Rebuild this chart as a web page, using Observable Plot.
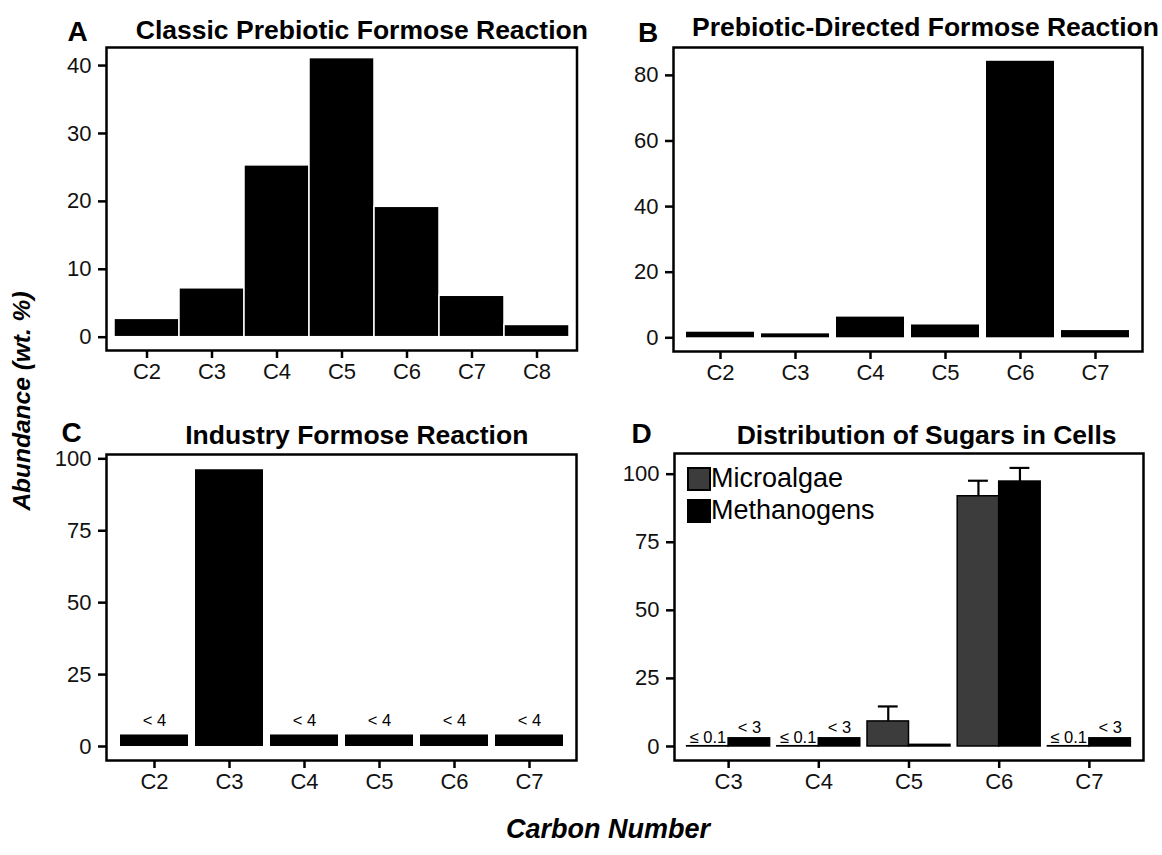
<!DOCTYPE html>
<html>
<head>
<meta charset="utf-8">
<script src="https://cdn.jsdelivr.net/npm/d3@7"></script>
<script src="https://cdn.jsdelivr.net/npm/@observablehq/plot@0.6"></script>
<style>
  html, body { margin: 0; padding: 0; background: #fff; }
  #fig { position: relative; width: 1162px; height: 855px; overflow: hidden; background: #fff;
         font-family: "Liberation Sans", Arial, Helvetica, sans-serif; color: #000; }
  .panel { position: absolute; }
  .panel svg { overflow: visible; display: block; }
  .axis-title { position: absolute; font-weight: bold; font-style: italic; white-space: nowrap; line-height: 1; }
  #ylab { left: 22px; top: 401px; font-size: 24.5px; transform: translate(-50%, -50%) rotate(-90deg); }
  #xlab { left: 608px; top: 816px; font-size: 27px; transform: translateX(-50%); }
  #legendD { position: absolute; left: 688px; top: 463px; }
</style>
</head>
<body>
<div id="fig">
  <div class="panel" id="pA" style="left:0px;top:0px"></div>
  <div class="panel" id="pB" style="left:581px;top:0px"></div>
  <div class="panel" id="pC" style="left:0px;top:410px"></div>
  <div class="panel" id="pD" style="left:581px;top:410px"></div>
  <div id="legendD"></div>
  <div class="axis-title" id="ylab">Abundance (wt. %)</div>
  <div class="axis-title" id="xlab">Carbon Number</div>
</div>
<script>
// ---------------- DATA ----------------
// Panel A
const panelA_letter = "A";
const panelA_title = "Classic Prebiotic Formose Reaction";
const panelA_categories = ["C2", "C3", "C4", "C5", "C6", "C7", "C8"];
const panelA_values = [2.7, 7.2, 25.3, 41.1, 19.2, 6.1, 1.8];
const panelA_ticks = [0, 10, 20, 30, 40];

// Panel B
const panelB_letter = "B";
const panelB_title = "Prebiotic-Directed Formose Reaction";
const panelB_categories = ["C2", "C3", "C4", "C5", "C6", "C7"];
const panelB_values = [1.7, 1.2, 6.3, 3.9, 84.3, 2.2];
const panelB_ticks = [0, 20, 40, 60, 80];

// Panel C
const panelC_letter = "C";
const panelC_title = "Industry Formose Reaction";
const panelC_categories = ["C2", "C3", "C4", "C5", "C6", "C7"];
const panelC_values = [4, 96.2, 4, 4, 4, 4];
const panelC_labels = ["< 4", "", "< 4", "< 4", "< 4", "< 4"];
const panelC_ticks = [0, 25, 50, 75, 100];

// Panel D
const panelD_letter = "D";
const panelD_title = "Distribution of Sugars in Cells";
const panelD_categories = ["C3", "C4", "C5", "C6", "C7"];
const panelD_series = ["Microalgae", "Methanogens"];
const panelD_microalgae = [0.1, 0.1, 9.2, 91.9, 0.1];
const panelD_microalgaeErr = [0, 0, 5.5, 5.7, 0];
const panelD_microalgaeLabels = ["≤ 0.1", "≤ 0.1", "", "", "≤ 0.1"];
const panelD_methanogens = [3, 3, 0.6, 97.3, 3];
const panelD_methanogensErr = [0, 0, 0, 5, 0];
const panelD_methanogensLabels = ["< 3", "< 3", "", "", "< 3"];
const panelD_ticks = [0, 25, 50, 75, 100];

// ---------------- STYLE ----------------
const fontFamily = '"Liberation Sans", Arial, Helvetica, sans-serif';
const seriesColors = ["#3c3c3c", "#000000"];
const tickFont = 22;

function fixAxes(svg) {
  svg.querySelectorAll('g[aria-label="x-axis tick"], g[aria-label="y-axis tick"]').forEach(g => {
    g.setAttribute("stroke-width", "2.5");
    g.setAttribute("stroke", "#000");
  });
  svg.querySelectorAll('g[aria-label="x-axis tick label"], g[aria-label="y-axis tick label"]').forEach(g => {
    g.setAttribute("font-size", tickFont);
    g.style.fontSize = tickFont + "px";
    g.setAttribute("fill", "#111");
    g.querySelectorAll("text").forEach(t => { t.removeAttribute("font-size"); t.style.fontSize = tickFont + "px"; });
  });
  svg.querySelectorAll('g[aria-label="x-axis"] .tick line, g[aria-label="y-axis"] .tick line').forEach(l => {
    l.setAttribute("stroke-width", "2.5");
  });
  svg.querySelectorAll('g[aria-label="x-axis"] .tick text, g[aria-label="y-axis"] .tick text').forEach(t => {
    t.style.fontSize = tickFont + "px";
  });
  return svg;
}

function decorations(letter, title, letterOff, titleOff) {
  return [
    Plot.frame({stroke: "#000", strokeWidth: 2.5}),
    Plot.text([title], {text: d => d, frameAnchor: "top", dx: titleOff[0], dy: titleOff[1],
      fontSize: 26.5, fontWeight: "bold", lineAnchor: "middle", textAnchor: "middle", fill: "#000"}),
    Plot.text([letter], {text: d => d, frameAnchor: "top-left", dx: letterOff[0], dy: letterOff[1],
      fontSize: 28, fontWeight: "bold", lineAnchor: "middle", textAnchor: "middle", fill: "#000"})
  ];
}

function basePlot(opts) {
  return Plot.plot({
    width: opts.width, height: opts.height,
    marginTop: opts.m[0], marginRight: opts.m[1], marginBottom: opts.m[2], marginLeft: opts.m[3],
    style: {fontFamily, fontSize: tickFont + "px", color: "#000", background: "transparent", overflow: "visible"},
    x: Object.assign({label: null, tickSize: 8, tickPadding: 5}, opts.x),
    y: {domain: opts.yDomain, ticks: opts.yTicks, label: null, tickSize: 8, tickPadding: 7},
    color: opts.color,
    marks: opts.marks
  });
}

// ---------------- PANEL A ----------------
const tableA = panelA_categories.map((c, i) => ({cat: c, value: panelA_values[i]}));
const plotA = basePlot({
  width: 581, height: 410, m: [47, 4.5, 60, 106],
  x: {domain: panelA_categories, paddingInner: 0, paddingOuter: 0.1},
  yDomain: [-1.96, 42.66], yTicks: panelA_ticks,
  marks: [
    Plot.barY(tableA, {x: "cat", y: "value", fill: "#000", stroke: "#fff", strokeWidth: 1.5}),
    ...decorations(panelA_letter, panelA_title, [-28.8, -15.8], [20.1, -17])
  ]
});
document.getElementById("pA").appendChild(fixAxes(plotA));

// ---------------- PANEL B ----------------
const tableB = panelB_categories.map((c, i) => ({cat: c, value: panelB_values[i]}));
const plotB = basePlot({
  width: 581, height: 410, m: [47, 20, 59, 92],
  x: {domain: panelB_categories, paddingInner: 0.1, paddingOuter: 0.15},
  yDomain: [-4.18, 88.5], yTicks: panelB_ticks,
  marks: [
    Plot.barY(tableB, {x: "cat", y: "value", fill: "#000"}),
    ...decorations(panelB_letter, panelB_title, [-25.5, -14.5], [17.5, -19.5])
  ]
});
document.getElementById("pB").appendChild(fixAxes(plotB));

// ---------------- PANEL C ----------------
const tableC = panelC_categories.map((c, i) => ({cat: c, value: panelC_values[i], label: panelC_labels[i]}));
const plotC = basePlot({
  width: 581, height: 400, m: [44, 5, 50, 106],
  x: {domain: panelC_categories, paddingInner: 0.1, paddingOuter: 0.15},
  yDomain: [-4.87, 101.5], yTicks: panelC_ticks,
  marks: [
    Plot.barY(tableC, {x: "cat", y: "value", fill: "#000"}),
    Plot.text(tableC.filter(d => d.label), {x: "cat", y: "value", text: "label", lineAnchor: "bottom",
      dy: -9, fontSize: 16.5, fill: "#000"}),
    ...decorations(panelC_letter, panelC_title, [-34.8, -21], [15.3, -19])
  ]
});
document.getElementById("pC").appendChild(fixAxes(plotC));

// ---------------- PANEL D ----------------
const halfBar = 0.23;   // each series takes half of a 0.92-wide group
const tableD = panelD_categories.flatMap((c, i) => [
  {cat: c, pos: i + 1, off: -halfBar, series: panelD_series[0], value: panelD_microalgae[i],
   err: panelD_microalgaeErr[i], label: panelD_microalgaeLabels[i]},
  {cat: c, pos: i + 1, off: halfBar, series: panelD_series[1], value: panelD_methanogens[i],
   err: panelD_methanogensErr[i], label: panelD_methanogensLabels[i]}
]);
const center = d => d.pos + d.off;
const withErr = tableD.filter(d => d.err > 0);
const plotD = basePlot({
  width: 581, height: 400, m: [43, 19, 50, 93],
  x: {type: "linear", domain: [0.4, panelD_categories.length + 0.6], ticks: panelD_categories.map((c, i) => i + 1),
      tickFormat: v => panelD_categories[v - 1]},
  yDomain: [-5.15, 107.6], yTicks: panelD_ticks,
  color: {domain: panelD_series, range: seriesColors},
  marks: [
    Plot.rectY(tableD, {x1: d => center(d) - halfBar, x2: d => center(d) + halfBar, y1: 0, y2: "value",
      fill: "series", stroke: "#000", strokeWidth: 1.5}),
    Plot.ruleX(withErr, {x: center, y1: "value", y2: d => d.value + d.err, stroke: "#000", strokeWidth: 2.2}),
    Plot.ruleY(withErr, {y: d => d.value + d.err, x1: d => center(d) - 0.11, x2: d => center(d) + 0.11,
      stroke: "#000", strokeWidth: 2.2}),
    Plot.text(tableD.filter(d => d.label && d.series === panelD_series[0]), {x: center, y: "value", text: "label",
      lineAnchor: "bottom", dy: -3.5, fontSize: 16.5, fill: "#000"}),
    Plot.text(tableD.filter(d => d.label && d.series === panelD_series[1]), {x: center, y: "value", text: "label",
      lineAnchor: "bottom", dy: -5, fontSize: 16.5, fill: "#000"}),
    ...decorations(panelD_letter, panelD_title, [-32.8, -19], [17.6, -18])
  ]
});
document.getElementById("pD").appendChild(fixAxes(plotD));

// Legend for panel D
const legend = plotD.legend("color", {legend: "swatches", columns: 1, swatchSize: 22});
if (legend) {
  legend.style.fontFamily = fontFamily;
  legend.style.fontSize = "27px";
  legend.style.color = "#000";
  legend.style.margin = "0";
  legend.style.minHeight = "0";
  legend.style.background = "transparent";
  legend.querySelectorAll("svg").forEach(s => {
    s.style.marginRight = "1px";
    s.style.overflow = "visible";
    s.querySelectorAll("rect").forEach(r => { r.setAttribute("stroke", "#000"); r.setAttribute("stroke-width", "2"); });
  });
  legend.querySelectorAll("div").forEach(dv => { dv.style.lineHeight = "31px"; });
  document.getElementById("legendD").appendChild(legend);
}
</script>
</body>
</html>
